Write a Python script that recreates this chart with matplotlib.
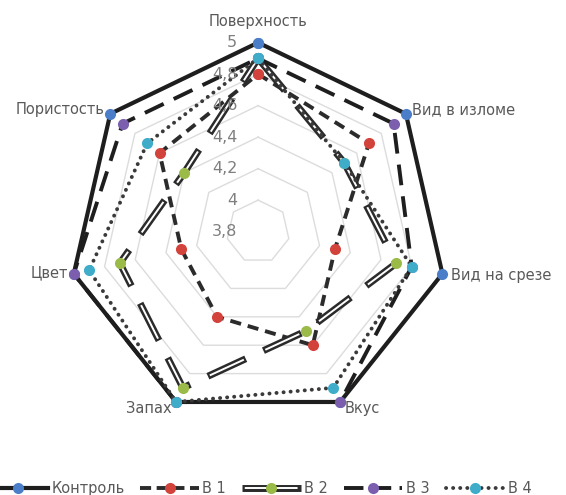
import numpy as np
import matplotlib
matplotlib.use("Agg")
from matplotlib import pyplot as plt
from matplotlib.lines import Line2D
from matplotlib.legend_handler import HandlerTuple

plt.rcParams['font.family'] = ['DejaVu Sans']
plt.rcParams['lines.scale_dashes'] = False

categories = ['Поверхность', 'Вид в изломе', 'Вид на срезе', 'Вкус', 'Запах', 'Цвет', 'Пористость']
control = [5, 5, 5, 5, 5, 5, 5]
v1 = [4.8, 4.7, 4.3, 4.6, 4.4, 4.3, 4.6]
v2 = [4.9, 4.5, 4.7, 4.5, 4.9, 4.7, 4.4]
v3 = [4.9, 4.9, 4.8, 5, 5, 5, 4.9]
v4 = [4.9, 4.5, 4.8, 4.9, 5, 4.9, 4.7]
ticks = [3.8, 4.0, 4.2, 4.4, 4.6, 4.8, 5.0]
tick_labels = ['3,8', '4', '4,2', '4,4', '4,6', '4,8', '5']
names = ['Контроль', 'В 1', 'В 2', 'В 3', 'В 4']

line_c = '#2b2b2b'
txt_c = '#595959'
cols = ['#4a7ec8', '#d2433c', '#9bbb48', '#7b5fae', '#3fadc9']

n = len(categories)
theta = np.arange(n) * 2 * np.pi / n
th = np.append(theta, theta[0])

def closed(v):
    return np.append(v, v[0])

fig = plt.figure(figsize=(5.66, 4.95), dpi=100)
ax = fig.add_axes([0.122, 0.15, 0.668, 0.764], projection='polar')
ax.set_theta_offset(np.pi / 2)
ax.set_theta_direction(-1)
ax.set_ylim(3.8, 5.0)
ax.set_xticks([])
ax.set_yticks([])
ax.grid(False)
ax.spines['polar'].set_visible(False)
ax.patch.set_alpha(0)

# grid heptagons
for t in ticks[1:]:
    ax.plot(th, [t] * (n + 1), color='#dcdcdc', lw=1.0, zorder=1, clip_on=False)

ms = 8
# control
ax.plot(th, closed(control), color='#1e1e1e', lw=3.0, marker='o', ms=ms,
        mfc=cols[0], mec='none', zorder=3, clip_on=False)
# B1 dashed
ax.plot(th, closed(v1), color=line_c, lw=2.8, ls=(0, (8, 5)), dash_capstyle='butt',
        marker='o', ms=ms, mfc=cols[1], mec='none', zorder=4, clip_on=False)
# B2 double line
ax.plot(th, closed(v2), color=line_c, lw=5.0, ls=(0, (30, 14)), dash_capstyle='butt', zorder=5)
ax.plot(th, closed(v2), color='white', lw=1.4, ls=(42.5, (27, 17)), dash_capstyle='butt', zorder=5)
ax.plot(th, closed(v2), ls='none', marker='o', ms=ms, mfc=cols[2], mec='none', zorder=5, clip_on=False)
# B3 long dash
ax.plot(th, closed(v3), color='#1e1e1e', lw=2.8, ls=(0, (15, 8)), dash_capstyle='butt',
        marker='o', ms=ms, mfc=cols[3], mec='none', zorder=6, clip_on=False)
# B4 dotted
ax.plot(th, closed(v4), color='#3a3a3a', lw=2.8, ls=(0, (0.1, 5)), dash_capstyle='round',
        marker='o', ms=ms, mfc=cols[4], mec='none', zorder=7, clip_on=False)

# tick labels along top axis
for t, lab in zip(ticks, tick_labels):
    ax.annotate(lab, xy=(0, t), xytext=(-15, 0), textcoords='offset points',
                ha='right', va='center', fontsize=11.5, color='#7f7f7f', zorder=10)

# category labels
offsets = [(0, 15, 'center'), (4.5, 3, 'left'), (6.5, -1, 'left'), (3, -5, 'left'),
           (-3, -5, 'right'), (-4, 1, 'right'), (-4, 3, 'right')]
for a, lab, (dx, dy, ha) in zip(theta, categories, offsets):
    ax.annotate(lab, xy=(a, 5.0), xytext=(dx, dy), textcoords='offset points',
                ha=ha, va='center', fontsize=10.5, color=txt_c, zorder=10,
                annotation_clip=False)

# legend proxies
p0 = Line2D([], [], color='#1e1e1e', lw=3.0, marker='o', ms=ms, mfc=cols[0], mec='none')
p1 = Line2D([], [], color=line_c, lw=2.8, ls=(0, (8, 4)), marker='o', ms=ms, mfc=cols[1], mec='none')
p2a = Line2D([], [], color=line_c, lw=5.0, solid_capstyle='butt')
p2b = Line2D([], [], color='white', lw=1.4, ls=(40, (38, 4)), dash_capstyle='butt')
p2c = Line2D([], [], ls='none', marker='o', ms=ms, mfc=cols[2], mec='none')
p3 = Line2D([], [], color='#1e1e1e', lw=2.8, ls=(0, (14, 6)), marker='o', ms=ms, mfc=cols[3], mec='none')
p4 = Line2D([], [], color='#3a3a3a', lw=2.8, ls=(0, (0.1, 5)), dash_capstyle='round',
            marker='o', ms=ms, mfc=cols[4], mec='none')

leg = fig.legend([p0, p1, (p2a, p2b, p2c), p3, p4], names,
                 handler_map={tuple: HandlerTuple(ndivide=1, pad=0)},
                 loc='lower center', bbox_to_anchor=(0.46, -0.028), ncol=5, frameon=False,
                 fontsize=10.5, handlelength=4.0, columnspacing=1.1, handletextpad=0.25)
for t in leg.get_texts():
    t.set_color(txt_c)

fig.savefig('out.png', dpi=100)
